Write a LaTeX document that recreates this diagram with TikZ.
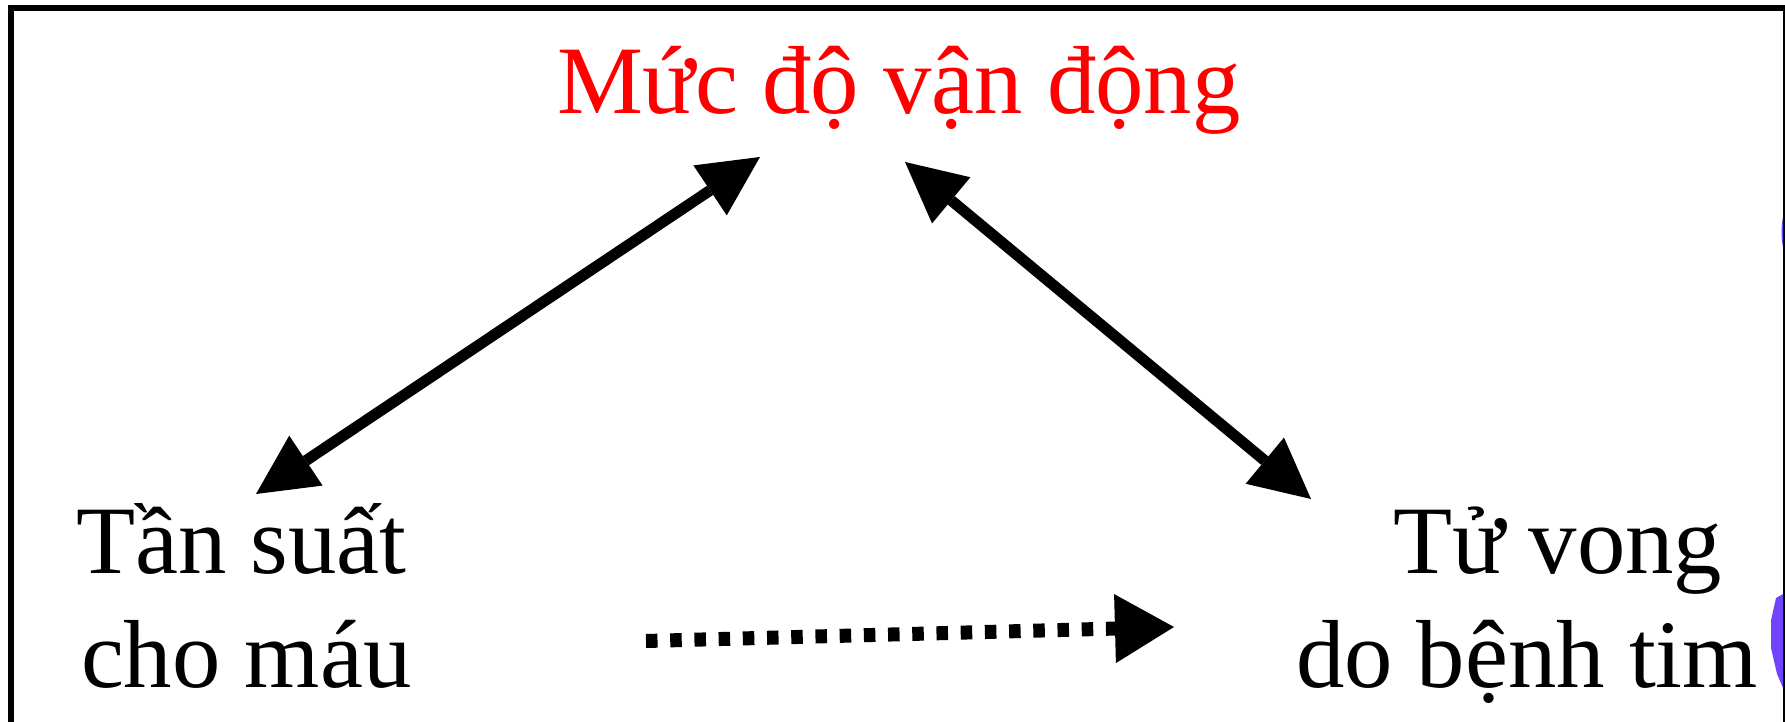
\documentclass[tikz,border=0pt]{standalone}
\usepackage{fontspec}
\setmainfont{Liberation Serif}
\usetikzlibrary{arrows.meta}
\definecolor{violetblob}{RGB}{112,68,255}
\tikzset{
  lbl/.style={anchor=base west, inner sep=0pt, outer sep=0pt,
    font=\fontsize{27.5pt}{31pt}\selectfont},
  solidarrow/.style={line width=0.11cm,
    {Triangle[length=0.6cm,width=0.6cm,line width=0pt]}-{Triangle[length=0.6cm,width=0.6cm,line width=0pt]}},
  dotarrow/.style={line width=0.14cm, dash pattern=on 0.115cm off 0.127cm,
    -{Triangle[length=0.59cm,width=0.69cm,line width=0pt]}},
  frame/.style={line width=0.06cm}
}
\begin{document}
\begin{tikzpicture}[x=0.01cm,y=-0.01cm]
  \useasboundingbox (0,0) rectangle (1785,722);
  % outer frame (open at the bottom edge)
  \draw[frame] (11,760) -- (11,8) -- (1786,8) -- (1786,760);
  % violet marks at the right edge
  \fill[violetblob] (1776,598) -- (1783,594) -- (1783,688) -- (1777,674)
    -- (1771,648) -- (1771,620) -- cycle;
  \fill[violetblob] (1783,217) .. controls (1781,225) and (1781,240) .. (1783,247) -- cycle;

  % labels
  \node[lbl, text=red] (muc) at (557,114) {Mức độ vận động};
  \node[lbl] (tan) at (76,574) {Tần suất};
  \node[lbl] (cho) at (81,688) {cho máu};
  \node[lbl] (tu) at (1393,574) {Tử vong};
  \node[lbl] (do) at (1296,688) {do bệnh tim};

  % arrow end points
  \coordinate (l1) at (256,494);
  \coordinate (l2) at (760,157);
  \coordinate (r1) at (905,162);
  \coordinate (r2) at (1311,499);
  \coordinate (d1) at (646,641);
  \coordinate (d2) at (1174,627);

  \draw[solidarrow] (l1) -- (l2);
  \draw[solidarrow] (r1) -- (r2);
  \draw[dotarrow] (d1) -- (d2);
\end{tikzpicture}
\end{document}
